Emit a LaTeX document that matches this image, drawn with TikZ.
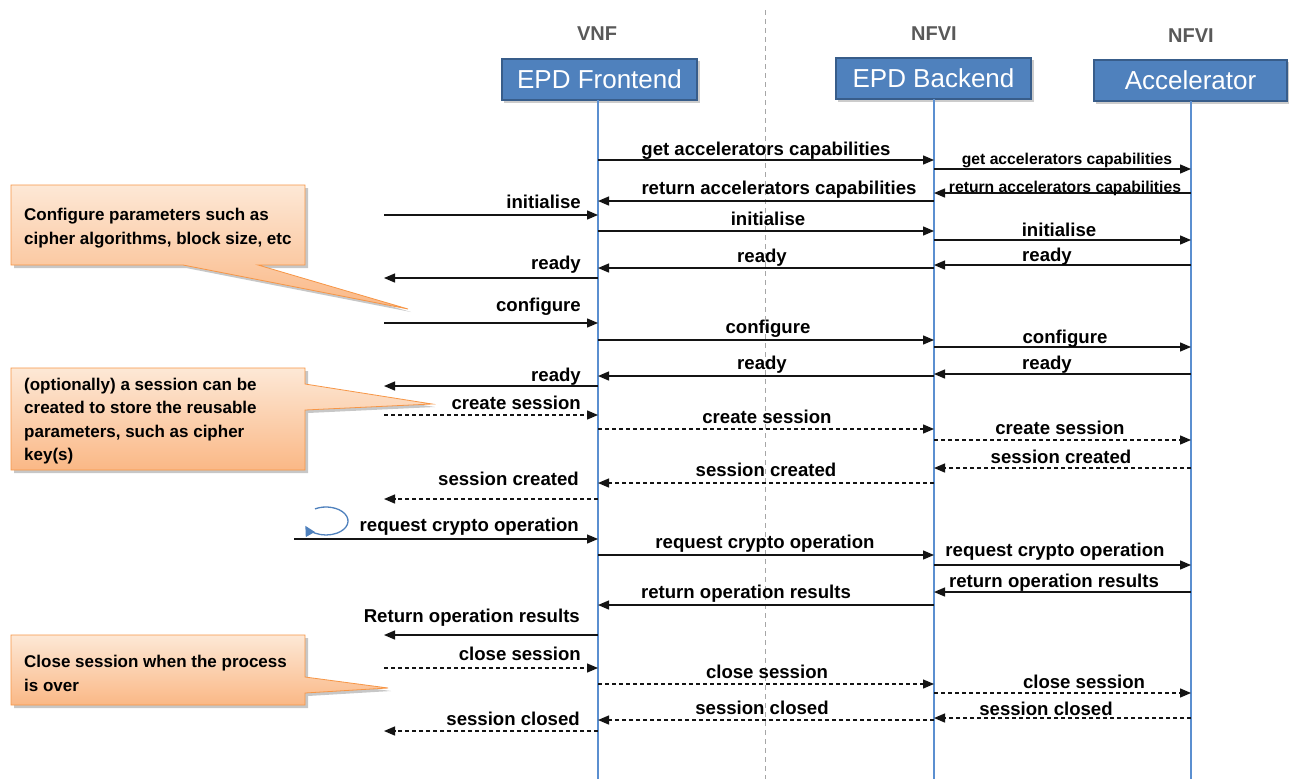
\documentclass[tikz,border=0pt]{standalone}
\usepackage{fontspec}
\setmainfont{Liberation Sans}
\usetikzlibrary{arrows.meta}

\definecolor{boxfill}{HTML}{4F81BD}
\definecolor{boxedge}{HTML}{385D8A}
\definecolor{lifeblue}{HTML}{5B8FD0}
\definecolor{notetop}{HTML}{FDE8D6}
\definecolor{notebot}{HTML}{FAB886}
\definecolor{noteedge}{HTML}{F79646}
\definecolor{tiergray}{HTML}{595959}

% one message: [line style]{from}{to}{line y}{label style}{label x,y}{text}
\newcommand\seqmsg[7][msg]{%
  \coordinate (row) at (0,#4);
  \draw[#1] (#2 |- row) -- (#3 |- row);
  \node[#5] (t#4) at (#6) {#7};}

\begin{document}
\begin{tikzpicture}[x=1pt,y=-1pt,
  actor/.style={draw=boxedge, line width=2.5pt, fill=boxfill, text=white,
    font=\fontsize{26}{30}\selectfont, minimum height=41pt, inner sep=0pt},
  tier/.style={text=tiergray, font=\fontsize{20}{24}\bfseries\selectfont,
    anchor=base, inner sep=0pt},
  lifeline/.style={draw=lifeblue, line width=2pt},
  msg/.style={draw=black!92, line width=1.3pt, -{Triangle[length=11pt,width=9pt]}},
  dmsg/.style={msg, dash pattern=on 4pt off 3pt},
  lbl/.style={font=\fontsize{18.6}{22}\bfseries\selectfont, anchor=base, inner sep=0pt},
  slbl/.style={lbl, font=\fontsize{15.7}{18}\bfseries\selectfont},
  lblr/.style={lbl, anchor=base east},
  note/.style={draw=noteedge, line width=0.8pt, top color=notetop, bottom color=notebot},
  noteshadow/.style={fill=black, opacity=0.22},
  notetext/.style={font=\fontsize{17}{23.5}\bfseries\selectfont, align=left,
    anchor=north west, inner sep=0pt},
  loopc/.style={draw=boxfill, line width=1.3pt, -{Triangle[length=10pt,width=10pt]}},
]
\useasboundingbox (0,0) rectangle (1289,779);
\fill[white] (0,0) rectangle (1289,779);

% separation between the VNF and NFVI sides
\coordinate (sepTop) at (765,10);
\coordinate (sepBot) at (765,779);
\draw[gray!70, line width=1pt, dash pattern=on 5pt off 4pt] (sepTop) -- (sepBot);

% tiers
\node[tier] (vnf)   at (597,40) {VNF};
\node[tier] (nfvi1) at (934,40) {NFVI};
\node[tier] (nfvi2) at (1191,42) {NFVI};

% participants
\fill[black, opacity=0.2] (504,61) rectangle (700,103);
\fill[black, opacity=0.2] (838,60) rectangle (1034,102);
\fill[black, opacity=0.2] (1096,62) rectangle (1289,104);
\node[actor, minimum width=195pt] (feb)  at (599.5,79.5) {EPD Frontend};
\node[actor, minimum width=195pt] (beb)  at (933.5,78.5) {EPD Backend};
\node[actor, minimum width=193pt] (accb) at (1190.5,80.5) {Accelerator};

\coordinate (fe)  at (598,100);
\coordinate (be)  at (934,99);
\coordinate (acc) at (1191,101);
\coordinate (bottom) at (0,779);
\coordinate (ext)  at (384,0);
\coordinate (ext2) at (294,0);

\draw[lifeline] (fe)  -- (fe |- bottom);
\draw[lifeline] (be)  -- (be |- bottom);
\draw[lifeline] (acc) -- (acc |- bottom);

% capabilities
\seqmsg{fe}{be}{160}{lbl}{766,155}{get accelerators capabilities}
\seqmsg{be}{acc}{169}{slbl}{1067,164}{get accelerators capabilities}
\seqmsg{acc}{be}{193}{slbl}{1065,192}{return accelerators capabilities}
\seqmsg{be}{fe}{201}{lbl}{779,194}{return accelerators capabilities}
% initialise
\seqmsg{ext}{fe}{215}{lblr}{581,208}{initialise}
\seqmsg{fe}{be}{231}{lbl}{768,225}{initialise}
\seqmsg{be}{acc}{240}{lbl}{1059,236}{initialise}
\seqmsg{acc}{be}{265}{lbl}{1047,261}{ready}
\seqmsg{be}{fe}{268}{lbl}{762,262}{ready}
\seqmsg{fe}{ext}{278}{lblr}{581,269}{ready}
% configure
\seqmsg{ext}{fe}{323}{lblr}{581,311}{configure}
\seqmsg{fe}{be}{340}{lbl}{768,333}{configure}
\seqmsg{be}{acc}{347}{lbl}{1065,343}{configure}
\seqmsg{acc}{be}{374}{lbl}{1047,369}{ready}
\seqmsg{be}{fe}{376}{lbl}{762,369}{ready}
\seqmsg{fe}{ext}{386}{lblr}{581,381}{ready}
% session setup
\seqmsg[dmsg]{ext}{fe}{415}{lblr}{581,409}{create session}
\seqmsg[dmsg]{fe}{be}{429}{lbl}{767,423}{create session}
\seqmsg[dmsg]{be}{acc}{440}{lbl}{1060,434}{create session}
\seqmsg[dmsg]{acc}{be}{468}{lbl}{1061,463}{session created}
\seqmsg[dmsg]{be}{fe}{483}{lbl}{766,476}{session created}
\seqmsg[dmsg]{fe}{ext}{499}{lblr}{579,485}{session created}
% crypto operation
\seqmsg{ext2}{fe}{539}{lblr}{579,531}{request crypto operation}
\seqmsg{fe}{be}{555}{lbl}{765,548}{request crypto operation}
\seqmsg{be}{acc}{565}{lbl}{1055,556}{request crypto operation}
\seqmsg{acc}{be}{592}{lbl}{1054,587}{return operation results}
\seqmsg{be}{fe}{605}{lbl}{746,598}{return operation results}
\seqmsg{fe}{ext}{635}{lblr}{580,622}{Return operation results}
% session teardown
\seqmsg[dmsg]{ext}{fe}{668}{lblr}{581,660}{close session}
\seqmsg[dmsg]{fe}{be}{684}{lbl}{767,678}{close session}
\seqmsg[dmsg]{be}{acc}{693}{lbl}{1084,688}{close session}
\seqmsg[dmsg]{acc}{be}{718}{lbl}{1046,715}{session closed}
\seqmsg[dmsg]{be}{fe}{720}{lbl}{762,714}{session closed}
\seqmsg[dmsg]{fe}{ext}{731}{lblr}{580,725}{session closed}

% repeat marker
\coordinate (loopc) at (326,521);
\draw[loopc] ([shift={(-120:22 and 14)}]loopc)
  arc[start angle=-120, end angle=160, x radius=22, y radius=14];

% callouts
\fill[noteshadow, shift={(3,3)}] (11,185) -- (305,185) -- (305,265) -- (258,265)
  -- (408,309) -- (183,265) -- (11,265) -- cycle;
\path[note] (11,185) -- (305,185) -- (305,265) -- (258,265)
  -- (408,309) -- (183,265) -- (11,265) -- cycle;
\node[notetext] (n1) at (24,208) {Configure parameters such as\\cipher algorithms, block size, etc};

\fill[noteshadow, shift={(3,3)}] (11,368) -- (305,368) -- (305,384) -- (432,404)
  -- (305,410) -- (305,470) -- (11,470) -- cycle;
\path[note] (11,368) -- (305,368) -- (305,384) -- (432,404)
  -- (305,410) -- (305,470) -- (11,470) -- cycle;
\node[notetext] (n2) at (24,377.5) {(optionally) a session can be\\created to store the reusable\\parameters, such as cipher\\key(s)};

\fill[noteshadow, shift={(3,3)}] (11,635) -- (305,635) -- (305,677) -- (388,688)
  -- (305,693) -- (305,705) -- (11,705) -- cycle;
\path[note] (11,635) -- (305,635) -- (305,677) -- (388,688)
  -- (305,693) -- (305,705) -- (11,705) -- cycle;
\node[notetext] (n3) at (24,655) {Close session when the process\\is over};
\end{tikzpicture}
\end{document}
